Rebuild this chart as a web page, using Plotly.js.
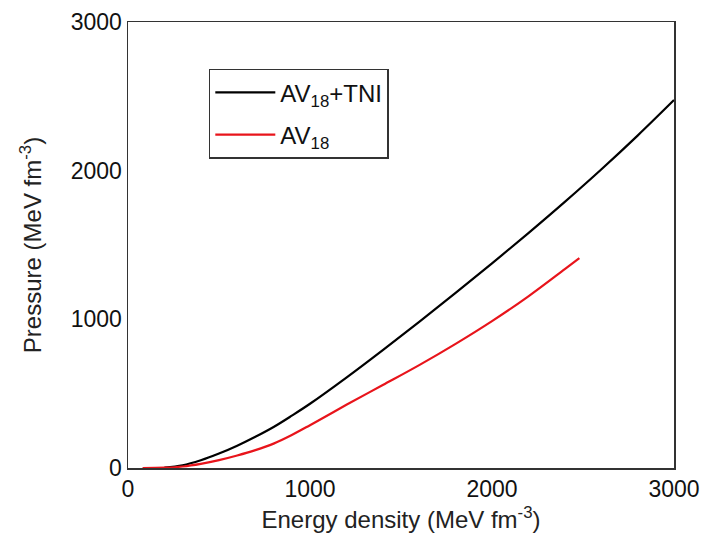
<!DOCTYPE html>
<html>
<head>
<meta charset="utf-8">
<script src="https://cdn.plot.ly/plotly-3.0.1.min.js"></script>
<style>html,body{margin:0;padding:0;background:#fff;}#chart{width:705px;height:538px;}</style>
</head>
<body>
<div id="chart"></div>
<script>
// Energy density (MeV fm^-3) and pressure (MeV fm^-3)
const tniEnergy = [200, 300, 400, 500, 600, 700, 800, 900, 1000, 1200, 1400, 1600, 1800, 2000, 2200, 2400, 2600, 2800, 3000];
const tniPressure = [2, 18, 52, 97, 150, 210, 276, 352, 432, 608, 793, 983, 1178, 1376, 1580, 1790, 2008, 2236, 2475];
const av18Energy = [80, 200, 300, 400, 500, 600, 700, 800, 900, 1000, 1200, 1400, 1600, 1800, 2000, 2200, 2400, 2480];
const av18Pressure = [0, 2, 10, 28, 53, 84, 120, 164, 222, 288, 425, 558, 692, 835, 988, 1155, 1338, 1412];
const seriesNames = ['AV<sub>18</sub>+TNI', 'AV<sub>18</sub>'];
const tickVals = [0, 1000, 2000, 3000];
const tickText = ['0', '1000', '2000', '3000'];

const font = 'Liberation Sans, Arial, sans-serif';
const traces = [
  {x: tniEnergy, y: tniPressure, name: seriesNames[0], type: 'scatter', mode: 'lines',
   legendgroup: 'a', line: {color: '#000000', width: 2.2, shape: 'spline'}},
  {x: av18Energy, y: av18Pressure, name: seriesNames[1], type: 'scatter', mode: 'lines',
   legendgroup: 'b', line: {color: '#e8141b', width: 2.2, shape: 'spline'}}
];
const axisCommon = {
  range: [0, 3000], tickvals: tickVals, ticktext: tickText,
  showgrid: false, zeroline: false, showline: true, mirror: true,
  linecolor: '#333333', linewidth: 1.5, ticks: '',
  tickfont: {family: font, size: 23, color: '#111'}
};
const layout = {
  width: 705, height: 538,
  margin: {l: 128, r: 31, t: 22, b: 70},
  paper_bgcolor: '#ffffff', plot_bgcolor: '#ffffff',
  showlegend: true,
  legend: {x: 0.148, y: 0.895, xanchor: 'left', yanchor: 'top',
    bordercolor: '#333333', borderwidth: 1.5, bgcolor: '#ffffff',
    traceorder: 'grouped', tracegroupgap: 8, itemwidth: 60,
    font: {family: font, size: 24, color: '#111'}},
  xaxis: Object.assign({}, axisCommon, {
    title: {text: 'Energy density (MeV fm<sup>-3</sup>)', font: {family: font, size: 24, color: '#222'}, standoff: 10}
  }),
  yaxis: Object.assign({}, axisCommon, {
    title: {text: 'Pressure (MeV fm<sup>-3</sup>)', font: {family: font, size: 24, color: '#222'}, standoff: 22}
  })
};
Plotly.newPlot('chart', traces, layout, {displayModeBar: false, staticPlot: true});
</script>
</body>
</html>
